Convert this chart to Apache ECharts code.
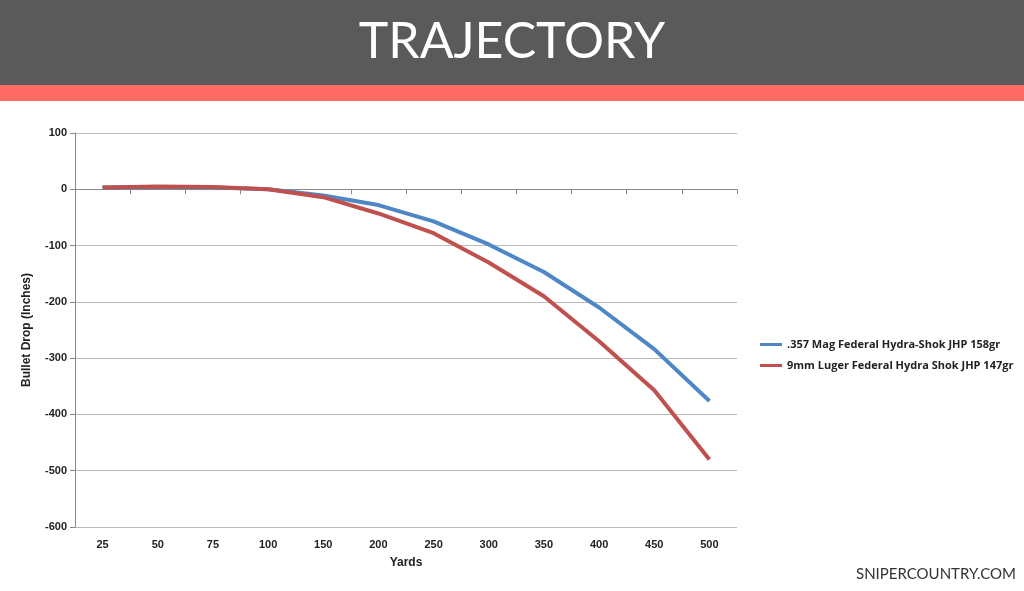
<!DOCTYPE html>
<html><head><meta charset="utf-8">
<script src="https://cdn.jsdelivr.net/npm/echarts@6/dist/echarts.min.js"></script>
<style>html,body{margin:0;padding:0;background:#fff}#main{width:1024px;height:591px}</style>
</head><body><div id="main"></div>
<script>
var yards = ['25','50','75','100','150','200','250','300','350','400','450','500'];
var magName = '.357 Mag Federal Hydra-Shok JHP 158gr';
var magDrop = [3, 4, 3, 0, -11, -28, -57, -98, -147, -210, -284, -376];
var lugerName = '9mm Luger Federal Hydra Shok JHP 147gr';
var lugerDrop = [3, 5, 4, 0, -14, -43, -78, -130, -190, -270, -357, -480];

var myChart = echarts.init(document.getElementById('main'));
var option = {
    backgroundColor: '#fff',
    animation: false,
    title: {text: 'TRAJECTORY', left: 'center', top: 12,
        textStyle: {color: '#fff', fontSize: 50, fontWeight: 'normal', fontFamily: 'Lato'}},
    graphic: [
        {type: 'rect', shape: {x: 0, y: 0, width: 1024, height: 85}, style: {fill: '#5a5a5a'}, z: -1},
        {type: 'rect', shape: {x: 0, y: 85, width: 1024, height: 16}, style: {fill: '#ff6b64'}, z: -1},
        {type: 'text', right: 8, top: 567, style: {text: 'SNIPERCOUNTRY.COM', fill: '#333', font: '15px Lato'}}
    ],
    legend: {orient: 'vertical', left: 755, top: 334, itemGap: 10, itemWidth: 22, itemHeight: 3,
        icon: 'rect', textStyle: {fontSize: 11, fontWeight: 'bold', color: '#222', fontFamily: 'Open Sans'},
        data: [magName, lugerName]},
    grid: {left: 75, right: 287, top: 133, bottom: 64},
    xAxis: {type: 'category', data: yards, boundaryGap: true, name: 'Yards', nameLocation: 'middle', nameGap: 30,
        nameTextStyle: {fontWeight: 'bold', fontSize: 12, color: '#222'},
        axisLine: {lineStyle: {color: '#888'}}, axisTick: {show: true, alignWithLabel: false, lineStyle: {color: '#888'}},
        axisLabel: {fontWeight: 'bold', fontSize: 11, color: '#222', margin: 12}},
    yAxis: {type: 'value', min: -600, max: 100, interval: 100, name: 'Bullet Drop (Inches)', nameLocation: 'middle', nameGap: 42,
        nameTextStyle: {fontWeight: 'bold', fontSize: 12, color: '#222'},
        axisLine: {show: true, lineStyle: {color: '#888'}}, axisTick: {show: true, lineStyle: {color: '#888'}},
        axisLabel: {fontWeight: 'bold', fontSize: 11, color: '#222'},
        splitLine: {lineStyle: {color: '#bbb'}}},
    series: [
        {name: magName, type: 'line', data: magDrop, showSymbol: false, lineStyle: {width: 4, color: '#4f86c6'}, itemStyle: {color: '#4f86c6'}},
        {name: lugerName, type: 'line', data: lugerDrop, showSymbol: false, lineStyle: {width: 4, color: '#c0504d'}, itemStyle: {color: '#c0504d'}}
    ]
};
myChart.setOption(option);
</script></body></html>
